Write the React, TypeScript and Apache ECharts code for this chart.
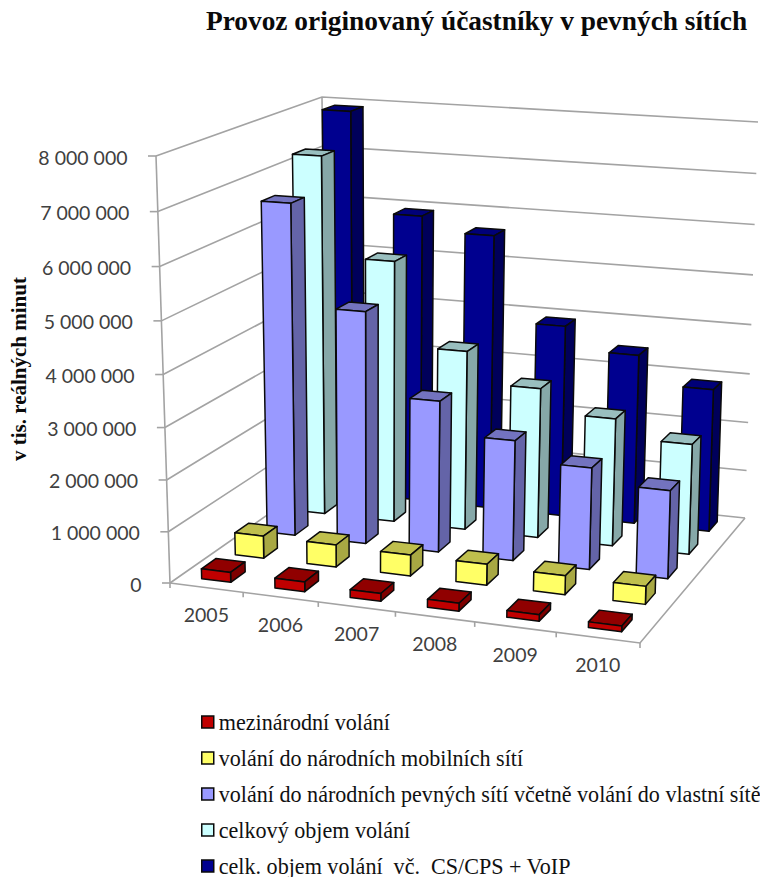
import React, { useEffect, useRef } from "react";
import * as echarts from "echarts";

const years = ["2005", "2006", "2007", "2008", "2009", "2010"];
const valueTicks = [0, 1000000, 2000000, 3000000, 4000000, 5000000, 6000000, 7000000, 8000000];

const nameInternational = "mezinárodní volání";
const nameMobile = "volání do národních mobilních sítí";
const nameFixed = "volání do národních pevných sítí včetně volání do vlastní sítě";
const nameTotal = "celkový objem volání";
const nameTotalVoip = "celk. objem volání  vč.  CS/CPS + VoIP";

const international = [195000, 190000, 150000, 150000, 125000, 105000];
const mobile = [442000, 437000, 412000, 408000, 366000, 345000];
const fixed = [6610000, 4630000, 3010000, 2380000, 2000000, 1720000];
const total = [7270000, 5300000, 3630000, 3020000, 2560000, 2200000];
const totalVoip = [7920000, 5920000, 5630000, 3920000, 3460000, 2900000];

const SERIF = "'Liberation Serif', serif";
const SANS = "Lato, sans-serif";
const GRID_COLOR = "#a3a3a3";

type Pt = [number, number];

// Perspective box: floor and ceiling quads, order front-left, front-right, back-right, back-left.
const FLOOR: Pt[] = [[170, 583], [640, 643], [745, 518], [326, 474]];
const CEILING: Pt[] = [[156, 156], [652, 188], [758, 122], [322, 97]];
const HEIGHT_FORESHORTEN = 0.046;
const ROW_COUNT = 5;
const BAR_WIDTH = 0.4;
const BAR_DEPTH = 0.43;

function quadMap(q: Pt[]) {
  const [A, B, C, D] = q;
  const dx1 = B[0] - C[0], dy1 = B[1] - C[1];
  const dx2 = D[0] - C[0], dy2 = D[1] - C[1];
  const sx = A[0] - B[0] + C[0] - D[0], sy = A[1] - B[1] + C[1] - D[1];
  const det = dx1 * dy2 - dx2 * dy1;
  const g = (sx * dy2 - dx2 * sy) / det;
  const h = (dx1 * sy - sx * dy1) / det;
  const a = B[0] - A[0] + g * B[0], b = D[0] - A[0] + h * D[0];
  const d = B[1] - A[1] + g * B[1], e = D[1] - A[1] + h * D[1];
  return (u: number, v: number): Pt => {
    const den = g * u + h * v + 1;
    return [(a * u + b * v + A[0]) / den, (d * u + e * v + A[1]) / den];
  };
}

const floorAt = quadMap(FLOOR);
const ceilingAt = quadMap(CEILING);

// u runs along the years, v into the depth, w up the value axis (all 0..1).
function project(u: number, v: number, w: number): Pt {
  const p0 = floorAt(u, v);
  const p1 = ceilingAt(u, v);
  const k = HEIGHT_FORESHORTEN;
  const t = (w * (1 - k)) / (1 - k * w);
  return [p0[0] + (p1[0] - p0[0]) * t, p0[1] + (p1[1] - p0[1]) * t];
}

function face(points: Pt[], fill: string) {
  return {
    type: "polygon",
    shape: { points },
    style: { fill, stroke: "#0a0a0a", lineWidth: 1.5, lineJoin: "round" },
  };
}

function boxRenderer(row: number, colors: { front: string; side: string; top: string }) {
  return (params: any, api: any) => {
    const rect = params.coordSys;
    const [cx, cy] = api.coord([api.value(0), api.value(1)]);
    const band = api.size([1, 0])[0];
    const u0 = (cx - (band * BAR_WIDTH) / 2 - rect.x) / rect.width;
    const u1 = (cx + (band * BAR_WIDTH) / 2 - rect.x) / rect.width;
    const w = (rect.y + rect.height - cy) / rect.height;
    const cell = 1 / ROW_COUNT;
    const v0 = cell * (row + 0.5 - BAR_DEPTH / 2);
    const v1 = cell * (row + 0.5 + BAR_DEPTH / 2);
    return {
      type: "group",
      children: [
        face([project(u0, v0, w), project(u1, v0, w), project(u1, v1, w), project(u0, v1, w)], colors.top),
        face([project(u1, v0, 0), project(u1, v1, 0), project(u1, v1, w), project(u1, v0, w)], colors.side),
        face([project(u0, v0, 0), project(u1, v0, 0), project(u1, v0, w), project(u0, v0, w)], colors.front),
      ],
    };
  };
}

function gridLine(points: Pt[]) {
  return {
    type: "polyline",
    shape: { points },
    style: { stroke: GRID_COLOR, lineWidth: 1.6, fill: "none" },
  };
}

// Walls, gridlines, ticks and value labels, one datum per value tick.
function renderValueTick(params: any, api: any) {
  const rect = params.coordSys;
  const value = api.value(1);
  const py = api.coord([0, value])[1];
  const w = (rect.y + rect.height - py) / rect.height;
  const front = project(0, 0, w);
  const back = project(0, 1, w);
  const right = project(1, 1, w);
  const label = value === 0 ? "0" : String(value).replace(/\B(?=(\d{3})+$)/g, " ");
  return {
    type: "group",
    children: [
      gridLine([front, back, right]),
      gridLine([[front[0] - 8, front[1]], front]),
      {
        type: "text",
        style: {
          text: label,
          x: front[0] - 28.5,
          y: front[1] + 1,
          align: "right",
          verticalAlign: "middle",
          fontFamily: SANS,
          fontSize: 19.5,
          fill: "#404040",
        },
      },
    ],
  };
}

// Floor front edge ticks and year labels, one datum per year.
function renderYearTick(params: any, api: any) {
  const rect = params.coordSys;
  const idx = api.value(0);
  const cx = api.coord([idx, 0])[0];
  const band = api.size([1, 0])[0];
  const uc = (cx - rect.x) / rect.width;
  const uEnd = (cx + band / 2 - rect.x) / rect.width;
  const tick = project(uEnd, 0, 0);
  const mid = project(uc, 0, 0);
  return {
    type: "group",
    children: [
      gridLine([tick, [tick[0], tick[1] + 5]]),
      {
        type: "text",
        style: {
          text: years[idx],
          x: mid[0],
          y: mid[1] + 27,
          align: "center",
          verticalAlign: "middle",
          fontFamily: SANS,
          fontSize: 19.5,
          fill: "#404040",
        },
      },
    ],
  };
}

// Box edges that have no tick of their own.
function renderFrame() {
  return {
    type: "group",
    children: [
      gridLine([project(0, 0, 0), project(0, 0, 1)]),
      gridLine([project(0, 1, 0), project(0, 1, 1)]),
      gridLine([project(0, 0, 0), project(1, 0, 0), project(1, 1, 0)]),
      gridLine([project(0, 0, 0), [project(0, 0, 0)[0], project(0, 0, 0)[1] + 5]]),
    ],
  };
}

function boxSeries(name: string, values: number[], row: number, colors: { front: string; side: string; top: string }) {
  return {
    type: "custom",
    name,
    coordinateSystem: "cartesian2d",
    clip: false,
    silent: true,
    itemStyle: { color: colors.front },
    encode: { x: 0, y: 1 },
    data: values.map((v, i) => [i, v]),
    renderItem: boxRenderer(row, colors),
  };
}

export default function App() {
  const ref = useRef<HTMLDivElement>(null);

  useEffect(() => {
    document.body.style.margin = "0";
    document.body.style.overflow = "hidden";
    const chart = echarts.init(ref.current!, undefined, { renderer: "svg" });
    chart.setOption({
      animation: false,
      backgroundColor: "#ffffff",
      title: {
        text: "Provoz originovaný účastníky v pevných sítích",
        left: 206,
        top: 7,
        padding: 0,
        textStyle: { fontFamily: SERIF, fontSize: 27.35, fontWeight: "bold", color: "#0a0a0a" },
      },
      grid: { left: 170, top: 156, width: 470, height: 427 },
      xAxis: { type: "category", data: years, show: false },
      yAxis: { type: "value", min: 0, max: 8000000, interval: 1000000, show: false },
      legend: {
        orient: "vertical",
        left: 201,
        top: 711,
        height: 300,
        padding: 0,
        itemGap: 14,
        itemWidth: 12,
        itemHeight: 12,
        itemStyle: { borderColor: "#0a0a0a", borderWidth: 1.5 },
        icon: "rect",
        selectedMode: false,
        textStyle: { fontFamily: SERIF, fontSize: 22.1, color: "#111111" },
        data: [nameInternational, nameMobile, nameFixed, nameTotal, nameTotalVoip],
      },
      graphic: [
        {
          type: "text",
          x: 19,
          y: 369,
          rotation: Math.PI / 2,
          style: {
            text: "v tis. reálných minut",
            align: "center",
            verticalAlign: "middle",
            fontFamily: SERIF,
            fontSize: 21,
            fontWeight: "bold",
            fill: "#0a0a0a",
          },
        },
      ],
      series: [
        {
          type: "custom",
          coordinateSystem: "cartesian2d",
          clip: false,
          silent: true,
          encode: { x: 0, y: 1 },
          data: valueTicks.map((v) => [0, v]),
          renderItem: renderValueTick,
        },
        {
          type: "custom",
          coordinateSystem: "cartesian2d",
          clip: false,
          silent: true,
          encode: { x: 0, y: 1 },
          data: [[0, 0]],
          renderItem: renderFrame,
        },
        {
          type: "custom",
          coordinateSystem: "cartesian2d",
          clip: false,
          silent: true,
          encode: { x: 0, y: 1 },
          data: years.map((_, i) => [i, 0]),
          renderItem: renderYearTick,
        },
        // Painted back to front so nearer rows cover farther ones.
        boxSeries(nameTotalVoip, totalVoip, 4, { front: "#00008f", side: "#00005a", top: "#000078" }),
        boxSeries(nameTotal, total, 3, { front: "#ccffff", side: "#86a8a8", top: "#99bfbf" }),
        boxSeries(nameFixed, fixed, 2, { front: "#9999ff", side: "#6464a8", top: "#7373bf" }),
        boxSeries(nameMobile, mobile, 1, { front: "#ffff66", side: "#a8a843", top: "#bfbf4d" }),
        boxSeries(nameInternational, international, 0, { front: "#c00000", side: "#7e0000", top: "#900000" }),
      ],
    });
    return () => chart.dispose();
  }, []);

  return <div ref={ref} style={{ width: 760, height: 877 }} />;
}
